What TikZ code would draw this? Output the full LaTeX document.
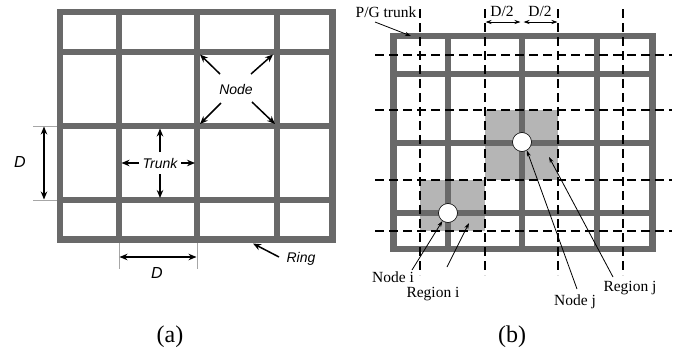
\documentclass[tikz,border=0pt]{standalone}
\usepackage{fontspec}
\usetikzlibrary{arrows.meta}
\newfontfamily\hvfont{Liberation Sans}
\newfontfamily\tmfont{Liberation Serif}
\definecolor{trunkgray}{HTML}{696969}
\definecolor{regiongray}{HTML}{B5B5B5}
\begin{document}
\begin{tikzpicture}[x=1pt,y=-1pt,
  ringline/.style={draw=trunkgray,line width=6.5pt},
  trunkline/.style={draw=trunkgray,line width=5.5pt},
  ringlineb/.style={draw=trunkgray,line width=6.5pt},
  trunklineb/.style={draw=trunkgray,line width=6pt},
  extline/.style={draw=gray!70,line width=0.5pt},
  arrA/.style={line width=1.5pt,-{Stealth[length=8pt,width=6.5pt]}},
  dimA/.style={line width=1.5pt,{Stealth[length=8pt,width=6.5pt]}-{Stealth[length=8pt,width=6.5pt]}},
  arrB/.style={line width=0.8pt,-{Stealth[length=6pt,width=4pt]}},
  dimB/.style={line width=0.8pt,{Stealth[length=6pt,width=4pt]}-{Stealth[length=6pt,width=4pt]}},
  cutline/.style={line width=1.6pt,dash pattern=on 9pt off 5pt},
  region/.style={fill=regiongray,draw=none},
  pnode/.style={circle,draw=black,line width=0.6pt,fill=white,minimum size=19pt,inner sep=0pt},
  lblA/.style={font=\hvfont\itshape\fontsize{14}{16}\selectfont,inner sep=1pt},
  lblD/.style={font=\hvfont\itshape\fontsize{16}{18}\selectfont,inner sep=1pt},
  lblB/.style={font=\tmfont\fontsize{15.5}{17}\selectfont,inner sep=1pt},
  capt/.style={font=\tmfont\fontsize{24}{26}\selectfont,inner sep=0pt}]
\useasboundingbox (0,0) rectangle (681,351);
\fill[white] (0,0) rectangle (681,351);

% ================= panel (a) =================
\foreach \x in {119,197,277} \draw[trunkline] (\x,12) -- (\x,239.5);
\foreach \y in {52,126,200} \draw[trunkline] (60,\y) -- (332.5,\y);
\draw[ringline] (60,12) rectangle (332.5,239.5);

% vertical D dimension
\draw[extline] (33,126) -- (57,126);
\draw[extline] (33,200) -- (57,200);
\coordinate (dvt) at (44,126.5);
\coordinate (dvb) at (44,199.5);
\draw[dimA] (dvt) -- (dvb);
\node[lblD] (dvl) at (20,162) {D};

% horizontal D dimension
\draw[extline] (119,243) -- (119,269);
\draw[extline] (197,243) -- (197,269);
\coordinate (dhl) at (119.5,257);
\coordinate (dhr) at (196.5,257);
\draw[dimA] (dhl) -- (dhr);
\node[lblD] (dhlab) at (157,273) {D};

% Node label and arrows
\node[lblA] (nodelbl) at (236,89) {Node};
\coordinate (n1s) at (220,74);  \coordinate (n1e) at (200,54.5);
\coordinate (n2s) at (251,74);  \coordinate (n2e) at (273,54.5);
\coordinate (n3s) at (221,103); \coordinate (n3e) at (200,124);
\coordinate (n4s) at (252,102); \coordinate (n4e) at (275,124);
\draw[arrA] (n1s) -- (n1e);
\draw[arrA] (n2s) -- (n2e);
\draw[arrA] (n3s) -- (n3e);
\draw[arrA] (n4s) -- (n4e);

% Trunk label and arrows
\node[lblA] (trunklbl) at (160,163) {Trunk};
\coordinate (t1s) at (160,152); \coordinate (t1e) at (160,128.5);
\coordinate (t2s) at (160,174); \coordinate (t2e) at (160,198);
\coordinate (t3s) at (139,163); \coordinate (t3e) at (121.5,163);
\coordinate (t4s) at (181,163); \coordinate (t4e) at (195,163);
\draw[arrA] (t1s) -- (t1e);
\draw[arrA] (t2s) -- (t2e);
\draw[arrA] (t3s) -- (t3e);
\draw[arrA] (t4s) -- (t4e);

% Ring label and arrow
\node[lblA] (ringlbl) at (301,259) {Ring};
\coordinate (rs) at (279,257); \coordinate (re) at (253,243.5);
\draw[arrA] (rs) -- (re);

\node[capt] (capa) at (170,337) {(a)};

% ================= panel (b) =================
\fill[region] (485,110) rectangle (558,180);
\fill[region] (420,180) rectangle (485,231);
\foreach \x in {448,522,597} \draw[trunklineb] (\x,36) -- (\x,249);
\foreach \y in {74,143,213} \draw[trunklineb] (393.5,\y) -- (652.5,\y);
\draw[ringlineb] (393.5,36) rectangle (652.5,249);

\foreach \x in {420,485,558,623} \draw[cutline] (\x,9) -- (\x,275);
\foreach \y in {55,110,180,231} \draw[cutline] (375,\y) -- (672,\y);

\node[pnode] (nodej) at (522,142) {};
\node[pnode] (nodei) at (448,213) {};

% P/G trunk
\node[lblB] (pglbl) at (386,12) {P/G trunk};
\coordinate (pgs) at (375,22); \coordinate (pge) at (411,36);
\draw[arrB] (pgs) -- (pge);

% D/2 labels
\node[lblB] (dh1) at (502,11) {D/2};
\node[lblB] (dh2) at (540,11) {D/2};
\coordinate (d1a) at (485.5,22); \coordinate (d1b) at (520.5,22);
\coordinate (d2a) at (523.5,22); \coordinate (d2b) at (557.5,22);
\draw[dimB] (d1a) -- (d1b);
\draw[dimB] (d2a) -- (d2b);

% Bottom labels
\node[lblB] (nilbl) at (393,277) {Node i};
\node[lblB] (rilbl) at (433,294) {Region i};
\node[lblB] (njlbl) at (575,302) {Node j};
\node[lblB] (rjlbl) at (630,288) {Region j};
\coordinate (nis) at (412,270);
\coordinate (ris) at (447,267); \coordinate (rie) at (469,223);
\coordinate (njs) at (577,289);
\coordinate (rjs) at (613,277); \coordinate (rje) at (549,157);
\draw[arrB] (nis) -- (nodei.235);
\draw[arrB] (ris) -- (rie);
\draw[arrB] (njs) -- (nodej.300);
\draw[arrB] (rjs) -- (rje);

\node[capt] (capb) at (512,337) {(b)};
\end{tikzpicture}
\end{document}
